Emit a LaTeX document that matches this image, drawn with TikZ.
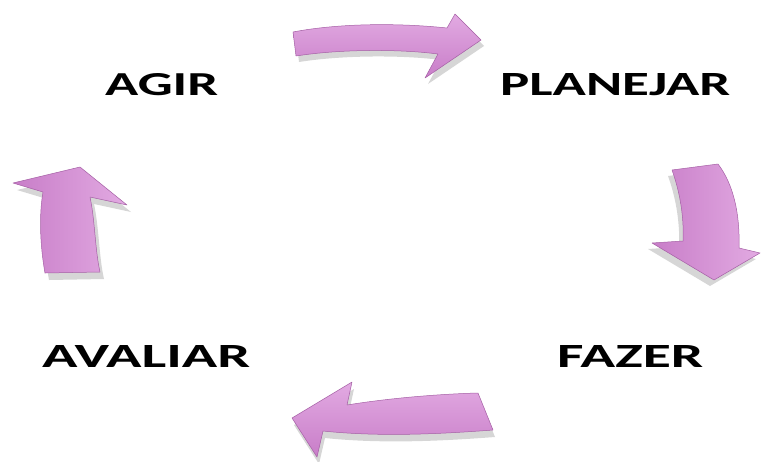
\documentclass[tikz,border=0pt]{standalone}
\usepackage{fontspec}
\setmainfont{Carlito}
\definecolor{pinkmid}{RGB}{200,125,200}
\definecolor{pinklight}{RGB}{226,170,226}
\definecolor{pinkdark}{RGB}{165,95,165}
\begin{document}
\begin{tikzpicture}[x=1pt,y=-1pt]
\tikzset{
  label/.style={inner sep=0pt,anchor=base west,text=black,font=\bfseries},
  arrowbody/.style={top color=pinklight,bottom color=pinkmid,draw=pinkdark,line width=0.5pt,line join=round},
  arrowshade/.style={fill=black,opacity=0.16}
}
\path[use as bounding box,fill=white] (0,0) rectangle (763,461);

% top arrow (AGIR -> PLANEJAR)
\def\arrowtop{(293,32) .. controls (340,23) and (400,23) .. (447,28) -- (455,14) -- (481,40) -- (425,78) -- (438,54) .. controls (400,49) and (340,49) .. (296,56) -- cycle}
\fill[arrowshade,shift={(3,6)}] \arrowtop;
\path[arrowbody] \arrowtop;

% right arrow (PLANEJAR -> FAZER)
\def\arrowright{(672,170) .. controls (681,195) and (684,220) .. (683,241) -- (652,243) -- (714,280) -- (760,253) -- (739,248) .. controls (740,215) and (734,185) .. (718,164) -- cycle}
\fill[arrowshade,shift={(-4,6)}] \arrowright;
\path[arrowbody,left color=pinkmid,right color=pinklight] \arrowright;

% bottom arrow (FAZER -> AVALIAR)
\def\arrowbottom{(478,393) .. controls (440,394) and (390,398) .. (347,405) -- (352,382) -- (292,418) -- (317,457) -- (323,431) .. controls (380,437) and (440,434) .. (493,430) -- cycle}
\fill[arrowshade,shift={(2,7)}] \arrowbottom;
\path[arrowbody] \arrowbottom;

% left arrow (AVALIAR -> AGIR)
\def\arrowleft{(80,167) -- (13,183) -- (43,192) .. controls (39,215) and (40,245) .. (45,273) -- (100,272) .. controls (95,250) and (95,220) .. (90,197) -- (127,205) -- cycle}
\fill[arrowshade,shift={(4,7)}] \arrowleft;
\path[arrowbody,left color=pinkmid,right color=pinklight] \arrowleft;

\node[label] (agir) at (105,95) {\resizebox{113pt}{22pt}{AGIR}};
\node[label] (planejar) at (500,95) {\resizebox{230pt}{22pt}{PLANEJAR}};
\node[label] (avaliar) at (42,367) {\resizebox{208pt}{22pt}{AVALIAR}};
\node[label] (fazer) at (557,367) {\resizebox{146pt}{22pt}{FAZER}};
\end{tikzpicture}
\end{document}
